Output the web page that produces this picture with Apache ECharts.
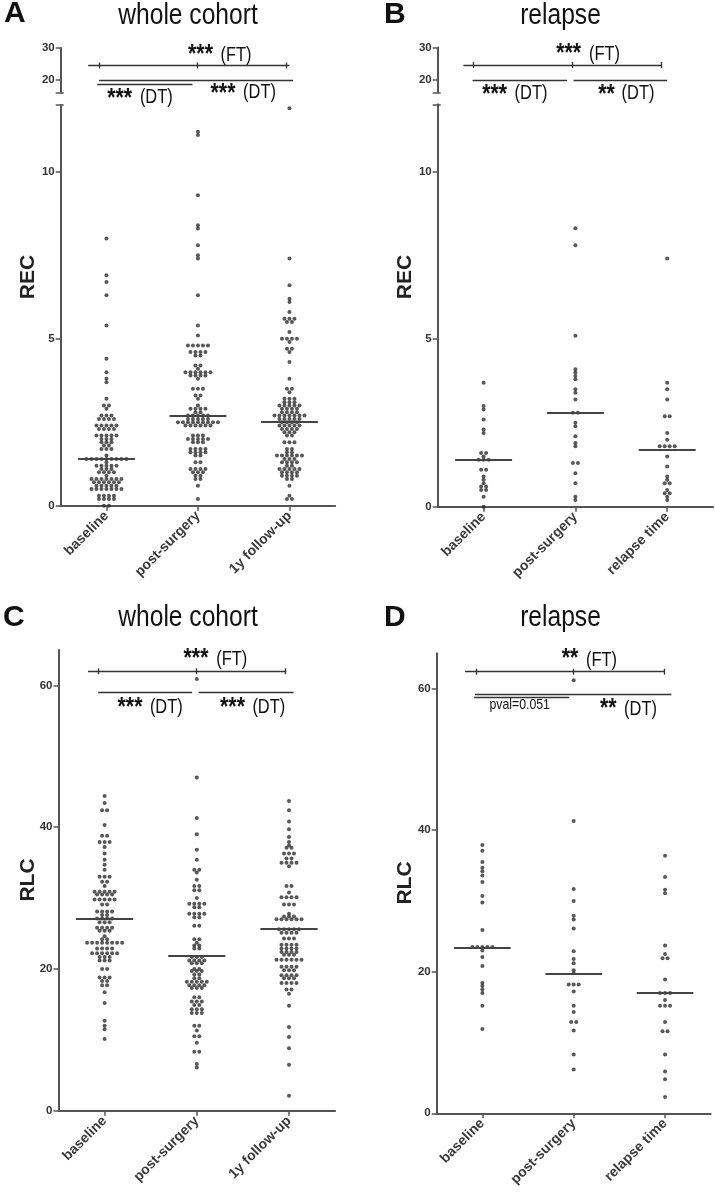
<!DOCTYPE html>
<html><head><meta charset="utf-8">
<script src="https://cdn.jsdelivr.net/npm/echarts@6/dist/echarts.min.js"></script>
<style>html,body{margin:0;padding:0;background:#fff}#c{width:715px;height:1200px}</style>
</head><body><div id="c"></div><script>
// ---------- data ----------
const catsWhole = ['baseline', 'post-surgery', '1y follow-up'];
const catsRelapse = ['baseline', 'post-surgery', 'relapse time'];

const recWholeBaseline = [8.0,6.9,6.7,6.3,5.4,4.4,4.0,3.8,3.7,3.2,3.0,3.0,2.9,2.7,2.7,2.7,2.6,2.6,2.6,2.6,2.4,2.4,2.4,2.4,2.4,2.3,2.3,2.3,2.3,2.1,2.1,2.1,2.1,2.1,2.0,2.0,2.0,1.9,1.9,1.9,1.8,1.8,1.7,1.7,1.7,1.5,1.4,1.4,1.4,1.4,1.4,1.4,1.4,1.4,1.4,1.3,1.2,1.2,1.2,1.2,1.2,1.1,1.1,1.1,1.0,1.0,1.0,1.0,0.9,0.8,0.8,0.8,0.8,0.8,0.8,0.8,0.7,0.7,0.7,0.7,0.7,0.7,0.6,0.6,0.6,0.6,0.6,0.5,0.5,0.5,0.5,0.5,0.5,0.5,0.3,0.3,0.3,0.3,0.2,0.2,0.2,0.2,0.0,0.0];
const recWholePost = [11.2,11.1,9.3,8.4,8.3,7.8,7.5,7.4,6.3,5.4,5.1,4.8,4.8,4.8,4.8,4.8,4.6,4.6,4.6,4.6,4.5,4.5,4.2,4.2,4.1,4.0,4.0,4.0,4.0,4.0,4.0,3.9,3.9,3.9,3.9,3.8,3.5,3.5,3.5,3.3,3.3,3.2,3.0,2.9,2.9,2.9,2.9,2.8,2.8,2.7,2.7,2.7,2.7,2.7,2.6,2.6,2.6,2.6,2.6,2.5,2.5,2.5,2.5,2.5,2.5,2.5,2.5,2.5,2.4,2.4,2.4,2.4,2.4,2.4,2.1,2.1,2.1,2.0,2.0,2.0,2.0,2.0,1.9,1.9,1.9,1.7,1.7,1.7,1.7,1.6,1.6,1.6,1.6,1.5,1.5,1.3,1.3,1.1,1.1,1.1,1.1,1.0,1.0,1.0,0.9,0.9,0.8,0.8,0.6,0.2];
const recWhole1y = [11.9,7.4,6.6,6.2,6.1,5.8,5.6,5.6,5.6,5.5,5.5,5.2,5.0,5.0,5.0,5.0,4.9,4.7,4.7,4.6,4.3,3.8,3.5,3.5,3.4,3.2,3.2,3.2,3.1,3.1,3.1,3.0,3.0,3.0,3.0,3.0,2.9,2.9,2.9,2.9,2.8,2.8,2.8,2.8,2.7,2.7,2.7,2.7,2.7,2.7,2.7,2.6,2.6,2.6,2.6,2.6,2.5,2.5,2.5,2.5,2.4,2.4,2.4,2.4,2.4,2.3,2.3,2.3,2.3,2.2,2.2,2.2,2.1,2.1,1.9,1.9,1.9,1.7,1.7,1.6,1.6,1.5,1.5,1.5,1.5,1.5,1.5,1.4,1.4,1.4,1.3,1.3,1.3,1.3,1.2,1.2,1.1,1.1,1.1,1.1,1.1,1.0,1.0,1.0,1.0,0.9,0.9,0.9,0.9,0.8,0.8,0.6,0.3,0.2,0.2];

const recRelBaseline = [3.7,3.0,2.9,2.6,2.3,2.2,1.6,1.6,1.5,1.4,1.4,1.4,1.1,1.1,0.9,0.8,0.7,0.6,0.6,0.5,0.5,0.3,0.0];
const recRelPost = [8.3,7.8,5.1,4.1,4.0,3.9,3.8,3.5,3.4,3.2,2.8,2.8,2.5,2.4,2.1,1.9,1.8,1.3,1.3,1.0,0.7,0.3,0.2];
const recRelRelapse = [7.4,3.7,3.5,3.2,2.7,2.7,2.2,2.0,1.8,1.8,1.8,1.8,1.5,1.2,0.9,0.8,0.7,0.7,0.5,0.4,0.4,0.3,0.2];

const rlcWholeBaseline = [44.4,43.4,42.4,42.4,40.3,38.8,38.8,37.9,37.9,37.9,37.2,36.3,35.4,34.7,34.0,33.0,33.0,33.0,32.3,32.3,31.7,30.9,30.9,30.9,30.9,30.9,30.5,30.5,30.5,30.5,29.8,29.8,29.8,29.8,29.8,29.1,29.1,28.1,28.1,28.1,28.1,27.6,27.6,27.1,27.1,27.1,27.1,26.6,26.6,26.6,25.8,25.8,25.8,25.8,25.4,25.4,25.4,24.6,24.2,24.2,23.7,23.7,23.7,23.7,23.7,23.7,23.7,23.7,22.9,22.9,22.9,22.9,22.2,22.2,22.2,22.2,22.2,22.2,21.7,21.7,21.7,21.2,21.2,21.2,20.0,20.0,18.8,18.8,18.8,18.3,18.3,17.7,17.7,16.7,15.2,12.7,12.0,11.5,10.1];
const rlcWholePost = [60.9,47.0,41.3,39.0,36.8,35.4,34.0,34.0,33.6,32.6,31.7,31.7,31.1,31.1,30.0,29.2,29.2,29.2,29.2,28.7,28.7,27.8,27.8,27.8,27.8,27.3,27.3,26.1,26.1,24.2,24.2,23.7,23.3,23.3,22.9,22.9,21.7,21.7,21.7,21.2,21.2,21.2,21.2,20.8,20.8,20.8,20.0,20.0,19.7,19.7,19.7,19.2,19.2,18.7,18.7,18.2,18.2,18.2,18.2,18.2,17.7,17.7,17.7,17.7,17.3,17.3,17.3,16.0,16.0,15.4,15.4,15.4,14.9,14.9,14.3,14.3,14.3,13.8,13.8,13.8,12.0,12.0,11.3,10.5,10.5,9.6,8.3,8.3,6.6,6.1];
const rlcWhole1y = [43.7,42.4,40.8,39.7,38.6,37.9,37.4,37.1,37.1,36.3,36.3,36.3,35.6,35.6,35.0,35.0,35.0,35.0,34.5,31.7,31.7,30.8,30.1,30.1,30.1,30.1,29.1,29.1,29.1,27.8,27.4,27.4,27.4,27.0,27.0,27.0,27.0,27.0,27.0,25.6,25.6,25.6,25.6,25.6,25.1,25.1,25.1,25.1,24.3,24.3,24.3,23.4,23.4,23.4,23.4,22.9,22.9,22.9,22.9,22.4,22.4,22.4,22.4,22.0,22.0,22.0,21.3,21.3,21.3,21.3,21.3,21.3,20.3,20.3,20.3,20.3,19.8,19.8,19.8,19.1,19.1,19.1,19.1,18.7,18.7,18.7,18.0,18.0,18.0,18.0,17.1,17.1,16.5,14.8,11.8,10.4,8.8,6.5,2.1];

const rlcRelBaseline = [37.9,37.1,35.5,34.7,34.2,33.6,32.7,30.7,29.8,25.9,23.5,23.5,23.5,23.5,23.5,23.0,22.1,20.8,18.4,18.0,17.5,17.0,15.2,11.9];
const rlcRelPost = [61.2,41.3,31.7,30.0,27.9,27.4,26.1,22.9,21.8,21.2,20.2,19.8,18.2,18.2,18.2,17.2,15.2,14.3,12.9,12.9,11.7,8.3,6.2];
const rlcRelRelapse = [36.4,33.4,31.6,31.1,23.7,22.5,21.9,21.9,18.9,17.0,17.0,17.0,16.0,15.2,15.2,15.2,12.9,11.6,11.6,8.3,5.9,4.8,2.3];

const mediansA = [1.4, 2.7, 2.5];
const mediansB = [1.4, 2.8, 1.7];
const mediansC = [27.1, 21.9, 25.7];
const mediansD = [23.4, 19.7, 17.0];

const recBrokenTicks = [20, 30];
const recTicks = [0, 5, 10];
const rlcTicks = [0, 20, 40, 60];

// significance brackets (category units on x, value units on y)
const bracketsA = [{x1:-0.2, x2:2.0, y:24.5, ticks:[-0.08, 0.99, 1.97]}, {x1:-0.08, x2:2.04, y:19.8}, {x1:-0.1, x2:0.94, y:18.5}];
const bracketsB = [{x1:-0.22, x2:1.94, y:24.5, ticks:[-0.11, 0.97, 1.94]}, {x1:-0.12, x2:0.91, y:19.9}, {x1:0.98, x2:2.0, y:19.9}];
const bracketsC = [{x1:-0.18, x2:1.97, y:62.0, ticks:[-0.07, 0.99, 1.96]}, {x1:-0.07, x2:0.95, y:59.1}, {x1:1.02, x2:2.05, y:59.1}];
const bracketsD = [{x1:-0.19, x2:1.99, y:62.4, ticks:[-0.07, 1.0, 1.99]}, {x1:-0.08, x2:2.07, y:59.2}, {x1:-0.09, x2:0.95, y:58.75}];

// ---------- layout ----------
const FA = "'Liberation Sans', Arial, Helvetica, sans-serif";
const AX = '#555';
const DOT = '#2e2e2e';
const NARROW = 0.82;

const grids = [
  {left:60.7, top:48, width:274.5, height:44.7},    // 0 A upper
  {left:60.7, top:105, width:274.5, height:400.7},  // 1 A lower
  {left:437.7, top:47.5, width:275.4, height:44.8}, // 2 B upper
  {left:437.7, top:104.3, width:275.4, height:402.4}, // 3 B lower
  {left:58.5, top:650, width:276.6, height:460.7},  // 4 C
  {left:436.7, top:653.3, width:274, height:460}    // 5 D
].map(g => Object.assign({outerBoundsMode:'none', containLabel:false}, g));

const yRanges = [[16,30],[0,12],[16,30],[0,12],[0,65],[0,65]];

function xAxisFor(i, cats, show) {
  return {
    type:'value', gridIndex:i, min:-0.5, max:2.5, show: show,
    axisLine:{show:true, onZero:false, lineStyle:{color:AX, width:2}},
    axisTick:{show:true, length:5, customValues:[0,1,2], lineStyle:{color:AX, width:1.5}},
    axisLabel:{show:true, customValues:[0,1,2], rotate:45, margin:8, color:'#3a3a3a', fontSize:14, fontWeight:'bold', fontFamily:FA,
      formatter: v => cats[Math.round(v)]},
    splitLine:{show:false}
  };
}
function yAxisFor(i, ticks, labels) {
  return {
    type:'value', gridIndex:i, min:yRanges[i][0], max:yRanges[i][1], position:'left',
    axisLine:{show:true, onZero:false, lineStyle:{color:AX, width:2}},
    axisTick:{show:true, length:5, customValues:ticks, lineStyle:{color:AX, width:1.5}},
    axisLabel:{show:true, customValues:labels, margin:6, color:'#333', fontSize:11.5, fontWeight:'bold', fontFamily:FA},
    splitLine:{show:false}
  };
}
function capAxis(i, ticks) {
  return {
    type:'value', gridIndex:i, min:yRanges[i][0], max:yRanges[i][1], position:'left', offset:0,
    axisLine:{show:false, onZero:false}, axisLabel:{show:false}, splitLine:{show:false},
    axisTick:{show:true, inside:true, length:3, customValues:ticks, lineStyle:{color:AX, width:1.5}}
  };
}

const xAxes = [
  xAxisFor(0, catsWhole, false), xAxisFor(1, catsWhole, true),
  xAxisFor(2, catsRelapse, false), xAxisFor(3, catsRelapse, true),
  xAxisFor(4, catsWhole, true), xAxisFor(5, catsRelapse, true)
];
const yAxes = [
  yAxisFor(0, [16].concat(recBrokenTicks), recBrokenTicks),
  yAxisFor(1, recTicks.concat([12]), recTicks),
  yAxisFor(2, [16].concat(recBrokenTicks), recBrokenTicks),
  yAxisFor(3, recTicks.concat([12]), recTicks),
  yAxisFor(4, rlcTicks, rlcTicks),
  yAxisFor(5, rlcTicks, rlcTicks),
  capAxis(0, [16]), capAxis(1, [12]), capAxis(2, [16]), capAxis(3, [12])
];

// beeswarm: identical values share a row, spread symmetrically
function swarm(vals, center, dx) {
  const groups = new Map();
  vals.forEach(v => { const k = v.toFixed(2); if (!groups.has(k)) groups.set(k, []); groups.get(k).push(v); });
  const out = [];
  groups.forEach(g => { const n = g.length; g.forEach((v, j) => out.push([center + (j - (n - 1) / 2) * dx, v])); });
  return out;
}
const DOT_GAP_PX = 5;
function dxFor(gi) { return DOT_GAP_PX / (grids[gi].width / 3); }

const series = [];
function addPanel(gi, groups, medians) {
  const dx = dxFor(gi);
  let data = [];
  groups.forEach((vals, c) => { data = data.concat(swarm(vals, c, dx)); });
  series.push({type:'scatter', xAxisIndex:gi, yAxisIndex:gi, data, symbol:'circle', symbolSize:4,
    itemStyle:{color:DOT}, silent:true, z:2});
  series.push({type:'lines', coordinateSystem:'cartesian2d', xAxisIndex:gi, yAxisIndex:gi, polyline:false, silent:true, z:3,
    lineStyle:{color:'#444', width:2, opacity:1, curveness:0},
    data: medians.map((m, c) => ({coords:[[c - 0.31, m], [c + 0.31, m]]}))});
}
function addBrackets(gi, list) {
  const pxPerUnit = grids[gi].height / (yRanges[gi][1] - yRanges[gi][0]);
  const h = 3 / pxPerUnit;
  const data = [];
  list.forEach(b => {
    data.push({coords:[[b.x1, b.y], [b.x2, b.y]]});
    (b.ticks || []).forEach(t => data.push({coords:[[t, b.y - h], [t, b.y + h]]}));
  });
  series.push({type:'lines', coordinateSystem:'cartesian2d', xAxisIndex:gi, yAxisIndex:gi, polyline:false, silent:true, z:3,
    lineStyle:{color:'#333', width:1.3, opacity:1, curveness:0}, data});
}
addPanel(1, [recWholeBaseline, recWholePost, recWhole1y], mediansA);
addPanel(3, [recRelBaseline, recRelPost, recRelRelapse], mediansB);
addPanel(4, [rlcWholeBaseline, rlcWholePost, rlcWhole1y], mediansC);
addPanel(5, [rlcRelBaseline, rlcRelPost, rlcRelRelapse], mediansD);
addBrackets(0, bracketsA);
addBrackets(2, bracketsB);
addBrackets(4, bracketsC);
addBrackets(5, bracketsD);

// ---------- texts ----------
const graphics = [];
function txt(x, y, text, font, opts) {
  opts = opts || {};
  graphics.push({type:'text', x, y, rotation: opts.rot || 0, scaleX: opts.sx || 1, silent:true, z:10,
    style:{text, font, fill: opts.fill || '#111', align: opts.align || 'center', verticalAlign:'middle'}});
}
function stars(cx, cy, s) { txt(cx, cy + 0.23 * 26, s, 'bold 26px ' + FA, {sx:NARROW}); }
function paren(cx, cy, s) { txt(cx, cy - 1.5, s, '20px ' + FA, {sx:NARROW}); }

// panel letters and titles
txt(4, 14, 'A', 'bold 30px ' + FA, {align:'left'});
txt(384, 15, 'B', 'bold 30px ' + FA, {align:'left'});
txt(3, 617.5, 'C', 'bold 30px ' + FA, {align:'left'});
txt(384, 617.5, 'D', 'bold 30px ' + FA, {align:'left'});
txt(188, 16, 'whole cohort', '30px ' + FA, {sx:NARROW});
txt(560.5, 16, 'relapse', '30px ' + FA, {sx:NARROW});
txt(188, 617.5, 'whole cohort', '30px ' + FA, {sx:NARROW});
txt(560.5, 617.5, 'relapse', '30px ' + FA, {sx:NARROW});

// axis names
txt(28, 277, 'REC', 'bold 21px ' + FA, {rot:Math.PI / 2, fill:'#222'});
txt(405, 277, 'REC', 'bold 21px ' + FA, {rot:Math.PI / 2, fill:'#222'});
txt(28, 880, 'RLC', 'bold 21px ' + FA, {rot:Math.PI / 2, fill:'#222'});
txt(405, 883, 'RLC', 'bold 21px ' + FA, {rot:Math.PI / 2, fill:'#222'});

// significance labels
stars(200.5, 49, '***'); paren(236, 56.5, '(FT)');
stars(119.7, 92.5, '***'); paren(156.3, 99, '(DT)');
stars(223, 87.5, '***'); paren(259.5, 93.5, '(DT)');

stars(568.7, 48, '***'); paren(604.5, 55.5, '(FT)');
stars(494.7, 89, '***'); paren(531, 95, '(DT)');
stars(606.5, 89, '**'); paren(638, 95, '(DT)');

stars(196, 653, '***'); paren(231.8, 660.5, '(FT)');
stars(130, 701.5, '***'); paren(166.3, 708.5, '(DT)');
stars(232.5, 701.5, '***'); paren(268.8, 708.5, '(DT)');

stars(570, 653, '**'); paren(601.5, 661.5, '(FT)');
txt(519.7, 705, 'pval=0.051', '15px ' + FA, {sx:NARROW});
stars(608.3, 703, '**'); paren(640.5, 710.5, '(DT)');

const chart = echarts.init(document.getElementById('c'), null, {renderer:'canvas'});
chart.setOption({
  animation:false,
  backgroundColor:'#fff',
  grid: grids,
  xAxis: xAxes,
  yAxis: yAxes,
  series,
  graphic: graphics
});
</script></body></html>
